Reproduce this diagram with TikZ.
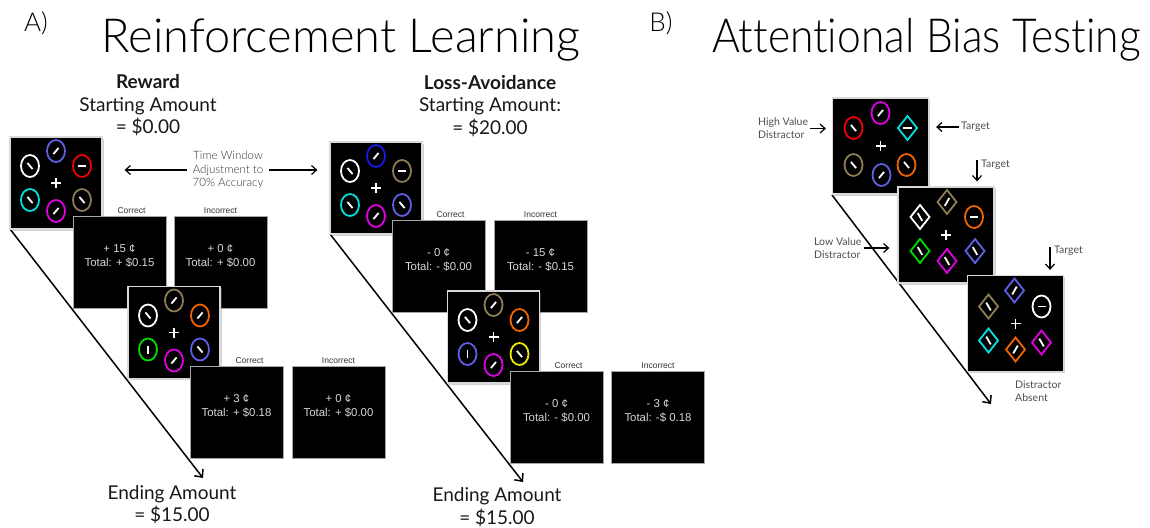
\documentclass[tikz,border=0pt]{standalone}
\usepackage{fontspec}
\usepackage{graphicx}
\setmainfont{Lato}
\newfontfamily\arialfont{Liberation Sans}
\IfFontExistsTF{Lato Light}{\newfontfamily\lightfont{Lato Light}[Ligatures=NoCommon]}{\newfontfamily\lightfont{Lato}}
\usetikzlibrary{positioning,arrows.meta,shadows}

\definecolor{stimred}{RGB}{240,0,0}
\definecolor{stimblue}{RGB}{25,25,235}
\definecolor{stimslate}{RGB}{95,95,230}
\definecolor{stimtan}{RGB}{140,125,85}
\definecolor{stimcyan}{RGB}{0,225,225}
\definecolor{stimmagenta}{RGB}{225,0,225}
\definecolor{stimorange}{RGB}{240,100,0}
\definecolor{stimgreen}{RGB}{0,220,0}
\definecolor{stimyellow}{RGB}{235,235,0}
\definecolor{fbgray}{RGB}{215,215,215}
\definecolor{notegray}{RGB}{80,80,80}

\tikzset{
  panel/.style={draw=gray!30, line width=1.2pt, fill=black, minimum size=92pt, inner sep=0pt,
    drop shadow={shadow xshift=1.5pt, shadow yshift=-1.5pt, opacity=0.35}},
  bigpanel/.style={panel, minimum size=96pt},
  fbbox/.style={draw=gray!70, line width=0.6pt, fill=black, minimum width=93pt, minimum height=92pt, inner sep=0pt},
  fbtext/.style={font=\arialfont\fontsize{11.4}{14}\selectfont, text=fbgray, align=center, inner sep=0pt},
  fblabel/.style={font=\arialfont\fontsize{8.5}{10}\selectfont, text=black!80, inner sep=1.5pt},
  heading/.style={font=\fontsize{19}{22.5}\selectfont, text=black!90, align=center},
  title/.style={font=\lightfont\fontsize{47}{52}\selectfont},
  letter/.style={font=\lightfont\fontsize{26}{30}\selectfont},
  note/.style={font=\lightfont\fontsize{11.5}{13.5}\selectfont, text=black!80, align=center, inner sep=6pt},
  sidenote/.style={font=\fontsize{10.5}{13}\selectfont, text=notegray, align=left, inner sep=2pt},
  arr/.style={-{Straight Barb[length=5pt,width=9pt]}, line width=1.2pt},
  diag/.style={-{Straight Barb[length=6pt,width=11pt]}, line width=1.5pt},
  stimline/.style={line width=1.8pt},
  bar/.style={white, line width=1.8pt},
  pics/ovl/.style 2 args={code={
    \draw[stimline,draw=#1] (0,0) ellipse [x radius=9, y radius=11];
    \draw[bar,rotate=#2] (-4,0) -- (4,0);
  }},
  pics/dmd/.style 2 args={code={
    \draw[stimline,draw=#1,line join=miter] (0,-12) -- (9.5,0) -- (0,12) -- (-9.5,0) -- cycle;
    \draw[bar,rotate=#2] (-4.5,0) -- (4.5,0);
  }},
  pics/fix/.style={code={
    \draw[white,line width=1.3pt] (-5,0) -- (5,0) (0,-5) -- (0,5);
  }}
}

\begin{document}
\begin{tikzpicture}[x=1pt,y=-1pt]
\fill[white] (0,0) rectangle (1150,527);
\useasboundingbox (0,0) rectangle (1150,527);

% titles
\node[letter] (labA) at (36,23) {A)};
\node[title] (rltitle) at (341,40) {Reinforcement Learning};
\node[letter] (labB) at (661,23) {B)};
\node[title] (abtitle) at (926.5,40) {\scalebox{0.905}[1]{Attentional Bias Testing}};

% reinforcement learning
\node[heading] (rewhead) at (148,105.5) {{\bfseries Reward}\\Starting Amount\\= \$0.00};
\node[heading] (losshead) at (490,106) {{\bfseries Loss-Avoidance}\\Starting Amount:\\= \$20.00};

\coordinate (rewend) at (203,478);
\coordinate (lossend) at (523,482);
\draw[diag] (10,229) -- (rewend);
\draw[diag] (330,234) -- (lossend);

\node[panel] (r1) at (56,183) {};
\node[note] (tw) at (228,170) {Time Window\\Adjustment to\\70\% Accuracy};
\draw[arr,shorten >=22pt] (tw.west) -- (tw.west -| r1.east);

\node[fbbox] (r1c) at (119.5,262) {};
\node[fbbox] (r1i) at (220.5,262) {};
\node[fbtext] (r1ct) at ([yshift=6.5pt]r1c.center) {+ 15 ¢\\Total: + \$0.15};
\node[fbtext] (r1it) at ([yshift=6.5pt]r1i.center) {+ 0 ¢\\Total: + \$0.00};
\node[fblabel,above=0pt of r1c,xshift=12pt] (r1cl) {Correct};
\node[fblabel,above=0pt of r1i] (r1il) {Incorrect};

\node[panel] (r2) at (174,332.5) {};
\node[fbbox] (r2c) at (236.5,412) {};
\node[fbbox] (r2i) at (338.5,412) {};
\node[fbtext] (r2ct) at ([yshift=6.5pt]r2c.center) {+ 3 ¢\\Total: + \$0.18};
\node[fbtext] (r2it) at ([yshift=6.5pt]r2i.center) {+ 0 ¢\\Total: + \$0.00};
\node[fblabel,above=0pt of r2c,xshift=13pt] (r2cl) {Correct};
\node[fblabel,above=0pt of r2i] (r2il) {Incorrect};

\node[panel] (l1) at (376,188) {};
\draw[arr,shorten >=12pt] (tw.east) -- (tw.east -| l1.west);
\node[fbbox] (l1c) at (438.5,266) {};
\node[fbbox] (l1i) at (540.5,266) {};
\node[fbtext] (l1ct) at ([yshift=6.5pt]l1c.center) {- 0 ¢\\Total: - \$0.00};
\node[fbtext] (l1it) at ([yshift=6.5pt]l1i.center) {- 15 ¢\\Total: - \$0.15};
\node[fblabel,above=0pt of l1c,xshift=12pt] (l1cl) {Correct};
\node[fblabel,above=0pt of l1i] (l1il) {Incorrect};

\node[panel] (l2) at (493.5,337) {};
\node[fbbox] (l2c) at (556.5,417) {};
\node[fbbox] (l2i) at (658,417) {};
\node[fbtext] (l2ct) at ([yshift=6.5pt]l2c.center) {- 0 ¢\\Total: - \$0.00};
\node[fbtext] (l2it) at ([yshift=6.5pt]l2i.center) {- 3 ¢\\Total: -\$ 0.18};
\node[fblabel,above=0pt of l2c,xshift=12pt] (l2cl) {Correct};
\node[fblabel,above=0pt of l2i] (l2il) {Incorrect};

\node[heading] (rewendtxt) at (172,504.5) {Ending Amount\\= \$15.00};
\node[heading] (lossendtxt) at (497,507) {Ending Amount\\= \$15.00};

% stimuli: dx/dy/colour/bar angle
\foreach \dx/\dy/\col/\ang in {0/-32/stimslate/50, -26/-17/white/-50, 26/-17/stimred/0,
    -26/17/stimcyan/-50, 26/17/stimtan/-50, 0/28/stimmagenta/50}
  \pic at ([shift={(\dx,\dy)}]r1.center) {ovl={\col}{\ang}};
\foreach \dx/\dy/\col/\ang in {0/-32/stimtan/50, -26/-17/white/-50, 26/-17/stimorange/50,
    -26/17/stimgreen/90, 26/17/stimslate/-50, 0/28/stimmagenta/50}
  \pic at ([shift={(\dx,\dy)}]r2.center) {ovl={\col}{\ang}};
\foreach \dx/\dy/\col/\ang in {0/-32/stimblue/50, -26/-17/white/-50, 26/-17/stimtan/0,
    -26/17/stimcyan/-50, 26/17/stimslate/-50, 0/28/stimmagenta/50}
  \pic at ([shift={(\dx,\dy)}]l1.center) {ovl={\col}{\ang}};
\foreach \dx/\dy/\col/\ang in {0/-32/stimtan/50, -26/-17/white/-50, 26/-17/stimorange/50,
    -26/17/stimslate/90, 26/17/stimyellow/-50, 0/28/stimmagenta/50}
  \pic at ([shift={(\dx,\dy)}]l2.center) {ovl={\col}{\ang}};
\foreach \p in {r1,r2,l1,l2}
  \pic at (\p.center) {fix};

% attentional bias testing
\coordinate (abend) at (991,404);
\draw[diag] (832,195) -- (abend);

\node[bigpanel] (a1) at (880.5,146) {};
\node[sidenote,anchor=west] (hv) at (756,128.5) {High Value\\Distractor};
\draw[arr,shorten >=6pt] (hv.east) -- (hv.east -| a1.west);
\node[sidenote,anchor=west] (t1) at (959,127) {Target};
\draw[arr,shorten >=7pt] (t1.west) -- (t1.west -| a1.east);

\node[bigpanel] (a2) at (946,235) {};
\coordinate (t2a) at (977,160);
\draw[arr,shorten >=5pt] (t2a) -- (t2a |- a2.north);
\node[sidenote,anchor=west] (t2) at (979,165) {Target};
\node[sidenote,anchor=west] (lv) at (812,248) {Low Value\\Distractor};
\draw[arr,shorten >=8pt] (lv.east) -- (lv.east -| a2.west);

\node[bigpanel] (a3) at (1015.5,323.5) {};
\coordinate (t3a) at (1050,247);
\draw[arr,shorten >=5pt] (t3a) -- (t3a |- a3.north);
\node[sidenote,anchor=west] (t3) at (1052,251) {Target};
\node[sidenote,anchor=north west] (da) at (1013,379) {Distractor\\Absent};

\foreach \dx/\dy/\col/\ang in {0/-33/stimmagenta/50, -27/-18/stimred/-50,
    -27/19/stimtan/-50, 26/19/stimorange/-50, 1/29/stimslate/50}
  \pic at ([shift={(\dx,\dy)}]a1.center) {ovl={\col}{\ang}};
\pic at ([shift={(27,-18)}]a1.center) {dmd={stimcyan}{0}};
\foreach \dx/\dy/\col/\ang in {1/-33/stimtan/60, -26/-18/white/-60,
    -26/16/stimgreen/-60, 29/16/stimslate/-60, 1/26/stimmagenta/-60}
  \pic at ([shift={(\dx,\dy)}]a2.center) {dmd={\col}{\ang}};
\pic at ([shift={(28,-18)}]a2.center) {ovl={stimorange}{0}};
\foreach \dx/\dy/\col/\ang in {-1/-33/stimslate/60, -27/-17/stimtan/-60,
    -27/17/stimcyan/-60, 26/19/stimmagenta/-60, 0/26/stimorange/60}
  \pic at ([shift={(\dx,\dy)}]a3.center) {dmd={\col}{\ang}};
\pic at ([shift={(26,-17)}]a3.center) {ovl={white}{0}};
\foreach \p in {a1,a2,a3}
  \pic at (\p.center) {fix};
\end{tikzpicture}
\end{document}
